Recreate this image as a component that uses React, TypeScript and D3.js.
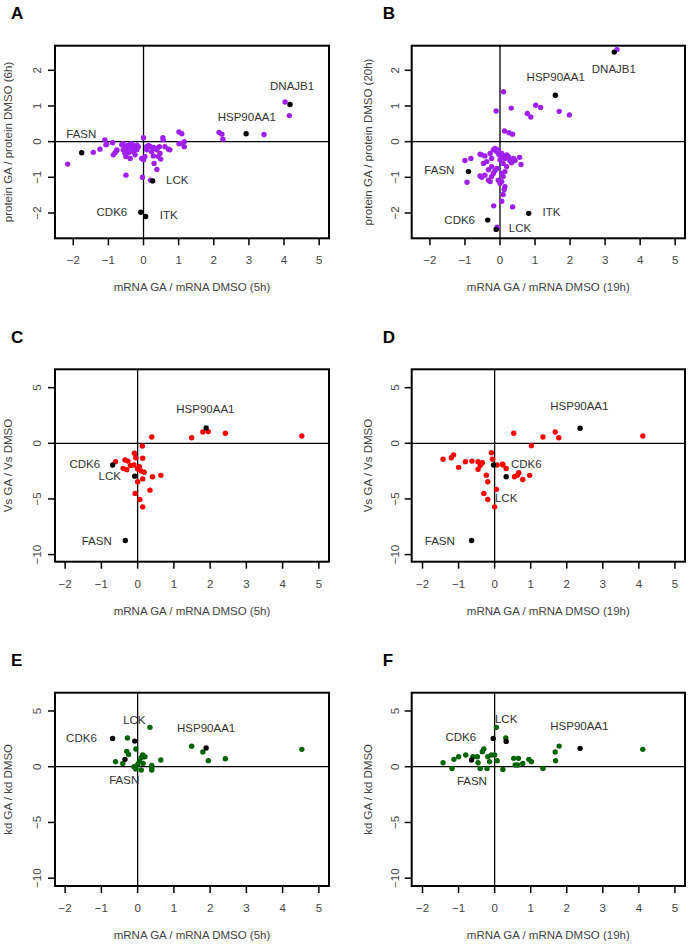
import * as d3 from 'd3'

// ---- panel A: protein (6h) vs mRNA (5h)
const A_PTS = [
  [-1.10, 0.05], [-1.05, -0.07], [-0.88, -0.03], [-0.76, -0.25], [-0.81, -0.31], [-0.58, -0.05],
  [-0.53, -0.14], [-0.48, -0.19], [-0.43, -0.09], [-0.38, -0.14], [-0.34, -0.06], [-0.29, -0.12],
  [-0.24, -0.19], [-0.19, -0.10], [-0.15, -0.14], [0.0, 0.11], [0.09, -0.14], [0.14, -0.11],
  [0.20, -0.14], [0.28, -0.16], [0.38, -0.19], [0.45, -0.14], [0.55, 0.11], [0.56, 0.05],
  [0.71, -0.21], [1.01, 0.27], [1.09, 0.22], [1.16, 0.0], [1.01, -0.06], [1.16, -0.14],
  [-2.16, -0.63], [-1.43, -0.30], [-1.24, -0.21], [-1.07, -0.09], [-0.86, -0.37], [-0.76, -0.23],
  [-0.62, -0.09], [-0.58, -0.23], [-0.53, -0.33], [-0.50, -0.42], [-0.43, -0.31], [-0.38, -0.47],
  [-0.34, -0.19], [-0.29, -0.28], [-0.24, -0.37], [-0.19, -0.23], [-0.05, -0.47], [0.0, -0.51],
  [0.04, -0.42], [0.09, -0.23], [0.23, -0.28], [0.28, -0.40], [0.33, -0.19], [0.38, -0.23],
  [0.42, -0.42], [0.47, -0.33], [0.49, -0.49], [0.61, -0.14], [0.75, -0.23], [1.09, -0.05],
  [0.30, -0.61], [0.38, -0.78], [-0.50, -0.94], [-0.03, -1.00], [0.20, -1.08],
  [4.03, 1.11], [4.15, 0.73], [3.43, 0.20], [2.15, 0.26], [2.23, 0.21], [2.26, 0.07],
]
const A_HITS = [[4.17, 1.04], [2.92, 0.22], [-1.76, -0.31], [0.26, -1.10], [-0.08, -1.98], [0.06, -2.10]]
const A_LABELS = [
  ['DNAJB1', 4.23, 1.56], ['HSP90AA1', 2.94, 0.70], ['FASN', -1.77, 0.22],
  ['LCK', 0.96, -1.08], ['CDK6', -0.90, -1.97], ['ITK', 0.72, -2.06],
]

// ---- panel B: protein (20h) vs mRNA (19h)
const B_PTS = [
  [-1.0, -0.53], [-0.83, -0.47], [-0.57, -0.35], [-0.52, -0.37], [-0.43, -0.40], [-0.38, -0.56],
  [-0.47, -0.61], [-0.28, -0.33], [-0.24, -0.47], [-0.19, -0.23], [-0.14, -0.19], [-0.09, -0.28],
  [-0.05, -0.23], [-0.03, -0.37], [0.0, -0.51], [0.05, -0.33], [0.07, -0.42], [0.09, -0.61],
  [0.14, -0.47], [0.19, -0.37], [0.24, -0.42], [0.28, -0.53], [0.33, -0.59], [0.38, -0.47],
  [0.43, -0.53], [0.56, -0.44], [0.60, -0.64], [-0.57, -0.96], [-0.52, -1.0], [-0.43, -0.94],
  [-0.33, -1.08], [-0.28, -1.12], [-0.24, -0.98], [-0.19, -0.89], [-0.14, -0.81], [-0.09, -0.75],
  [-0.05, -1.08], [0.0, -1.17], [0.05, -1.12], [0.09, -0.98], [0.14, -0.84], [0.19, -0.70],
  [0.05, -0.89], [-0.24, -0.70], [-0.33, -0.79], [-0.94, -1.14], [-0.18, -1.80], [0.36, -1.83],
  [0.05, -1.67], [0.09, -1.48], [0.14, -1.26], [0.12, -1.34], [-0.08, -2.40],
  [3.34, 2.58], [0.10, 1.40], [-0.11, 0.86], [0.32, 0.94], [1.02, 1.02], [1.16, 0.96],
  [0.78, 0.79], [0.88, 0.69], [1.69, 0.85], [1.98, 0.75], [0.13, 0.30], [0.26, 0.25], [0.36, 0.21],
]
const B_HITS = [[3.26, 2.51], [1.58, 1.30], [-0.90, -0.84], [-0.35, -2.20], [-0.11, -2.46], [0.82, -2.01]]
const B_LABELS = [
  ['DNAJB1', 3.25, 2.03], ['HSP90AA1', 1.59, 1.81], ['FASN', -1.73, -0.79],
  ['CDK6', -1.15, -2.20], ['LCK', 0.57, -2.43], ['ITK', 1.47, -1.97],
]

// ---- panel C: Vs (5h)
const C_PTS = [
  [1.80, 1.02], [1.95, 1.05], [1.49, 0.50], [2.42, 0.90], [4.53, 0.66], [0.39, 0.57], [0.13, -0.24],
  [-0.61, -1.65], [-0.35, -1.50], [-0.27, -1.60], [-0.09, -0.90], [-0.05, -1.30], [0.14, -1.35],
  [-0.07, -4.50], [0.06, -5.05], [0.14, -5.71], [0.34, -4.21], [0.41, -3.00], [0.64, -2.88],
  [0.0, -3.46], [-0.40, -2.25], [-0.30, -2.37], [0.14, -3.20], [0.18, -2.60], [-0.10, -1.95],
  [0.05, -2.10], [0.10, -2.50], [-0.20, -2.00], [0.0, -2.30],
]
const C_HITS = [[1.89, 1.38], [-0.69, -1.95], [-0.08, -2.95], [-0.34, -8.74]]
const C_LABELS = [['HSP90AA1', 1.87, 3.06], ['CDK6', -1.46, -1.86], ['LCK', -0.77, -2.92], ['FASN', -1.13, -8.74]]

// ---- panel D: Vs (19h)
const D_PTS = [
  [4.11, 0.66], [1.68, 1.02], [1.78, 0.50], [1.34, 0.57], [0.53, 0.90], [1.02, -0.21],
  [-0.09, -0.85], [-0.06, -1.44], [-1.43, -1.44], [-1.20, -1.30], [-1.14, -1.05], [-1.0, -2.16],
  [-0.81, -1.65], [-0.63, -1.60], [-0.46, -1.65], [-0.34, -1.75], [0.07, -1.95], [0.22, -1.87],
  [0.32, -2.26], [-0.30, -4.50], [-0.19, -5.05], [0.0, -5.71], [0.05, -4.14], [-0.23, -2.86],
  [-0.19, -3.46], [0.55, -3.00], [0.63, -2.86], [0.67, -2.65], [0.78, -3.25], [0.97, -2.88],
  [-0.46, -2.34], [-0.40, -2.00], [0.23, -1.95],
]
const D_HITS = [[2.37, 1.35], [-0.03, -1.95], [0.32, -3.00], [-0.64, -8.74]]
const D_LABELS = [['HSP90AA1', 2.35, 3.36], ['CDK6', 0.88, -1.86], ['LCK', 0.32, -4.90], ['FASN', -1.52, -8.74]]

// ---- panel E: kd (5h)
const E_PTS = [
  [0.34, 3.53], [-0.28, 2.57], [1.49, 1.83], [1.80, 1.32], [1.95, 0.54], [2.42, 0.72], [4.53, 1.56],
  [0.64, 0.60], [0.39, 0.12], [0.39, -0.10], [-0.61, 0.45], [-0.41, 0.30], [-0.30, 1.38],
  [-0.25, 1.10], [-0.05, 1.59], [0.14, 1.05], [0.10, 0.80], [0.05, 0.50], [0.0, 0.20],
  [-0.10, 0.0], [0.15, 0.30], [0.20, 0.90], [-0.05, -0.20], [0.10, -0.30], [0.39, -0.30],
]
const E_HITS = [[-0.69, 2.54], [-0.08, 2.30], [1.89, 1.68], [-0.35, 0.66]]
const E_LABELS = [['LCK', -0.09, 4.18], ['HSP90AA1', 1.89, 3.49], ['CDK6', -1.55, 2.60], ['FASN', -0.37, -1.19]]

// ---- panel F: kd (19h)
const F_PTS = [
  [0.05, 3.53], [0.31, 2.57], [1.79, 1.85], [1.68, 1.32], [1.69, 0.54], [4.11, 1.56],
  [-1.43, 0.36], [-1.18, -0.15], [-1.13, 0.66], [-1.0, 0.90], [-0.80, 1.05], [-0.60, 0.90],
  [-0.48, 0.90], [-0.46, 0.36], [-0.40, -0.15], [-0.34, 1.34], [-0.30, 1.59], [-0.21, -0.15],
  [-0.19, 0.90], [-0.14, 0.45], [-0.09, 1.05], [0.0, 1.05], [0.07, 0.54], [0.23, -0.24],
  [0.53, 0.75], [0.57, 0.15], [0.66, 0.75], [0.64, 0.15], [0.78, 0.30], [0.95, 0.66],
  [1.02, 0.45], [1.34, -0.15],
]
const F_HITS = [[-0.04, 2.54], [0.32, 2.27], [2.37, 1.65], [-0.64, 0.60]]
const F_LABELS = [['LCK', 0.32, 4.27], ['HSP90AA1', 2.35, 3.65], ['CDK6', -0.94, 2.63], ['FASN', -0.63, -1.28]]

const X_TICKS = [-2, -1, 0, 1, 2, 3, 4, 5]
const Y_TICKS_PROT = [-2, -1, 0, 1, 2]
const Y_TICKS_VS = [-10, -5, 0, 5]

const FONT = '"Liberation Sans", Arial, sans-serif'
const PURPLE = '#a020f0', RED = '#ff0000', GREEN = '#006400'

const panels = [
  { id: 'A', pts: A_PTS, hits: A_HITS, labels: A_LABELS, col: PURPLE, xd: [-2.52, 5.28], yd: [-2.71, 2.69], yt: Y_TICKS_PROT,
    box: [55, 329, 45.7, 238.3], xt: 'mRNA GA / mRNA DMSO (5h)', ytl: 'protein GA / protein DMSO (6h)' },
  { id: 'B', pts: B_PTS, hits: B_HITS, labels: B_LABELS, col: PURPLE, xd: [-2.52, 5.28], yd: [-2.71, 2.69], yt: Y_TICKS_PROT,
    box: [411.7, 685, 45.7, 238.3], xt: 'mRNA GA / mRNA DMSO (19h)', ytl: 'protein GA / protein DMSO (20h)' },
  { id: 'C', pts: C_PTS, hits: C_HITS, labels: C_LABELS, col: RED, xd: [-2.28, 5.28], yd: [-10.64, 6.65], yt: Y_TICKS_VS,
    box: [55, 329, 369.3, 561.7], xt: 'mRNA GA / mRNA DMSO (5h)', ytl: 'Vs GA / Vs DMSO' },
  { id: 'D', pts: D_PTS, hits: D_HITS, labels: D_LABELS, col: RED, xd: [-2.3, 5.28], yd: [-10.64, 6.65], yt: Y_TICKS_VS,
    box: [411.7, 685, 369.3, 561.7], xt: 'mRNA GA / mRNA DMSO (19h)', ytl: 'Vs GA / Vs DMSO' },
  { id: 'E', pts: E_PTS, hits: E_HITS, labels: E_LABELS, col: GREEN, xd: [-2.28, 5.28], yd: [-10.7, 6.64], yt: Y_TICKS_VS,
    box: [55, 329, 692.7, 886], xt: 'mRNA GA / mRNA DMSO (5h)', ytl: 'kd GA / kd DMSO' },
  { id: 'F', pts: F_PTS, hits: F_HITS, labels: F_LABELS, col: GREEN, xd: [-2.3, 5.28], yd: [-10.7, 6.64], yt: Y_TICKS_VS,
    box: [411.7, 685, 692.7, 886], xt: 'mRNA GA / mRNA DMSO (19h)', ytl: 'kd GA / kd DMSO' },
]

function Panel({ p }: { p: any }) {
  const [l, r, t, b] = p.box
  const x = d3.scaleLinear(p.xd, [l, r])
  const y = d3.scaleLinear(p.yd, [b, t])
  const right = l > 300
  const tickLabX = l - (right ? 16.7 : 18)
  const titleX = l - (right ? 43.5 : 46.7)
  const letterX = right ? l - 29 : l - 44
  return (
    <g>
      <text x={letterX} y={t - 26.5} fontSize={17} fontWeight="bold" fontFamily={FONT} fill="#000">{p.id}</text>
      {/* zero lines */}
      <line x1={x(0)} x2={x(0)} y1={t} y2={b} stroke="#000" strokeWidth={1.3} />
      <line x1={l} x2={r} y1={y(0)} y2={y(0)} stroke="#000" strokeWidth={1.3} />
      {p.pts.map((d: number[], i: number) => (
        <circle key={'p' + i} cx={x(d[0])} cy={y(d[1])} r={2.7} fill={p.col} />
      ))}
      {p.hits.map((d: number[], i: number) => (
        <circle key={'h' + i} cx={x(d[0])} cy={y(d[1])} r={2.7} fill="#000" />
      ))}
      {p.labels.map((d: any[], i: number) => (
        <text key={'l' + i} x={x(d[1])} y={y(d[2])} textAnchor="middle" dominantBaseline="central"
          fontSize={11.5} fontFamily={FONT} fill="#333">{d[0]}</text>
      ))}
      <rect x={l} y={t} width={r - l} height={b - t} fill="none" stroke="#000" strokeWidth={2} />
      {X_TICKS.map(v => (
        <g key={'xt' + v}>
          <line x1={x(v)} x2={x(v)} y1={b} y2={b + 7} stroke="#000" strokeWidth={1.5} />
          <text x={x(v)} y={b + 22} textAnchor="middle" dominantBaseline="central" fontSize={11.5}
            fontFamily={FONT} fill="#444">{v < 0 ? '\u2212' + Math.abs(v) : v}</text>
        </g>
      ))}
      {p.yt.map((v: number) => (
        <g key={'yt' + v}>
          <line x1={l - 7} x2={l} y1={y(v)} y2={y(v)} stroke="#000" strokeWidth={1.5} />
          <text transform={`translate(${tickLabX},${y(v)}) rotate(-90)`} textAnchor="middle" dominantBaseline="central"
            fontSize={11.5} fontFamily={FONT} fill="#444">{v < 0 ? '\u2212' + Math.abs(v) : v}</text>
        </g>
      ))}
      <text x={(l + r) / 2} y={b + 49} textAnchor="middle" dominantBaseline="central" fontSize={11.5}
        fontFamily={FONT} fill="#444">{p.xt}</text>
      <text transform={`translate(${titleX},${(t + b) / 2}) rotate(-90)`} textAnchor="middle" dominantBaseline="central"
        fontSize={11.5} fontFamily={FONT} fill="#444">{p.ytl}</text>
    </g>
  )
}

export default function App() {
  return (
    <div style={{ position: 'absolute', left: 0, top: 0 }}>
      <svg width={690} height={946} viewBox="0 0 690 946" style={{ display: 'block', background: '#fff' }}>
        <rect width={690} height={946} fill="#fff" />
        {panels.map(p => <Panel key={p.id} p={p} />)}
      </svg>
    </div>
  )
}
